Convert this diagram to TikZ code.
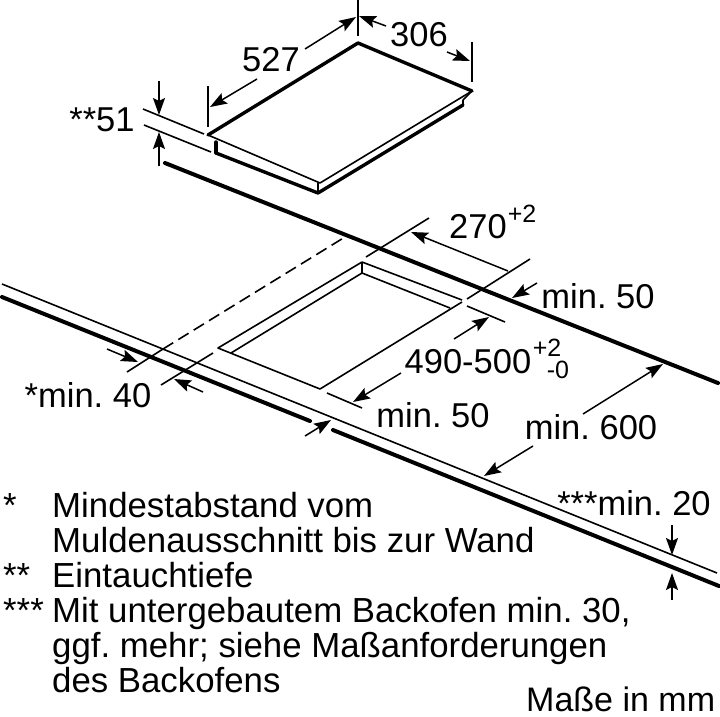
\documentclass[tikz,border=0pt]{standalone}
\usepackage{fontspec}
\setmainfont{Liberation Sans}
\usetikzlibrary{arrows.meta}
\tikzstyle{thin line}  = [line width=1.6pt,line join=round]
\tikzstyle{hob line}   = [line width=3.4pt,line join=round,line cap=round]
\tikzstyle{edge line}  = [line width=4pt,line cap=round]
\tikzstyle{dim arrow}  = [line width=1.5pt,-{Stealth[length=17pt,width=12pt,inset=3pt]}]
\tikzstyle{label}      = [inner sep=0pt,font=\fontsize{34.5}{38}\selectfont\frenchspacing]
\tikzstyle{note}       = [inner sep=0pt,anchor=base west,font=\fontsize{34.8}{38}\selectfont\frenchspacing]
\tikzstyle{tolerance}  = [inner sep=0pt,font=\fontsize{25}{28}\selectfont]

\begin{document}
\begin{tikzpicture}[x=1pt,y=-1pt]
	\useasboundingbox (0,0) rectangle (720,716);

	% hob
	\draw[hob line] (208,135) -- (358,43) -- (472,91);
	\draw[thin line] (208,135) -- (320,183) -- (472,91);
	\draw[thin line] (472,91) -- (463,100);
	\draw[hob line] (216,153) -- (318,193) -- (463,105);
	\draw[hob line] (216,142) -- (216,153);
	\draw[thin line] (463,100) -- (463,105);
	\draw[thin line] (318,183) -- (318,193);

	% worktop edges
	\draw[edge line] (165,163) -- (718,383);
	\draw[thin line] (2,284) -- (717,573);
	\draw[edge line] (2,297) -- (310,421);
	\draw[edge line] (333,430) -- (719,586);

	% cut-out
	\draw[thin line] (231,353) -- (362,273) -- (450,308);
	\draw[thin line] (362,262) -- (218,348) -- (320,389) -- (462,302);
	\draw[thin line] (362,262) -- (462,300);
	\draw[thin line] (362,262) -- (362,273);
	\draw[thin line,dash pattern=on 12pt off 6pt] (163,349) -- (345,237);

	% extension lines
	\draw[thin line] (358,0) -- (358,36);
	\draw[thin line] (472,42) -- (472,82);
	\draw[thin line] (208,86) -- (208,127);
	\draw[thin line] (143,109) -- (204,134);
	\draw[thin line] (144,125) -- (211,152);
	\draw[thin line] (366,257) -- (429,218);
	\draw[thin line] (467,299) -- (530,259);
	\draw[thin line] (467,306) -- (505,322);
	\draw[thin line] (327,393) -- (362,408);
	\draw[thin line] (127,372) -- (163,349);
	\draw[thin line] (161,385) -- (213,353);

	% dimension arrows
	\draw[dim arrow] (305,49) -- (356,17);
	\draw[dim arrow] (257,79) -- (210,107);
	\draw[dim arrow] (386,26) -- (359,16);
	\draw[dim arrow] (447,52) -- (470,61);
	\draw[dim arrow] (159,81) -- (159,115);
	\draw[dim arrow] (159,166) -- (159,132);
	\draw[dim arrow,{Stealth[length=17pt,width=12pt,inset=3pt]}-] (411,232) -- (508,271);
	\draw[dim arrow] (537,283) -- (512,298);
	\draw[dim arrow] (454,339) -- (489,317);
	\draw[dim arrow] (401,373) -- (353,402);
	\draw[dim arrow] (583,414) -- (663,364);
	\draw[dim arrow] (107,349) -- (138,362);
	\draw[dim arrow] (203,392) -- (174,379);
	\draw[dim arrow] (305,436) -- (331,420);
	\draw[dim arrow] (533,446) -- (484,476);
	\draw[dim arrow] (672,525) -- (672,555);
	\draw[dim arrow] (672,600) -- (672,573);

	% dimensions
	\node[label] (lenHob)    at (271,60)  {527};
	\node[label] (widthHob)  at (419,35)  {306};
	\node[label] (depthHob)  at (102,120) {**51};
	\node[label] (widthCut)  at (478,227) {270};
	\node[tolerance] (widthTol) at (522,214) {+2};
	\node[label] (lenCut)    at (468,362) {490-500};
	\node[tolerance] (lenTolA) at (547,348) {+2};
	\node[tolerance] (lenTolB) at (558,370) {-0};
	\node[label] (minBack)   at (598,296) {min. 50};
	\node[label] (minFront)  at (433,415) {min. 50};
	\node[label] (minDepth)  at (591,427) {min. 600};
	\node[label] (minWall)   at (88,395)  {*min. 40};
	\node[label] (minOven)   at (634,503) {***min. 20};

	% notes
	\node[note] (markA) at (3,517)  {*};
	\node[note] (noteA) at (52,517) {Mindestabstand vom};
	\node[note] (noteB) at (52,552) {Muldenausschnitt bis zur Wand};
	\node[note] (markB) at (3,587)  {**};
	\node[note] (noteC) at (52,587) {Eintauchtiefe};
	\node[note] (markC) at (3,622)  {***};
	\node[note] (noteD) at (52,622) {Mit untergebautem Backofen min. 30,};
	\node[note] (noteE) at (52,657) {ggf. mehr; siehe Maßanforderungen};
	\node[note] (noteF) at (52,692) {des Backofens};
	\node[note,font=\fontsize{34}{38}\selectfont] (unit)  at (526,711) {Maße in mm};
\end{tikzpicture}
\end{document}
